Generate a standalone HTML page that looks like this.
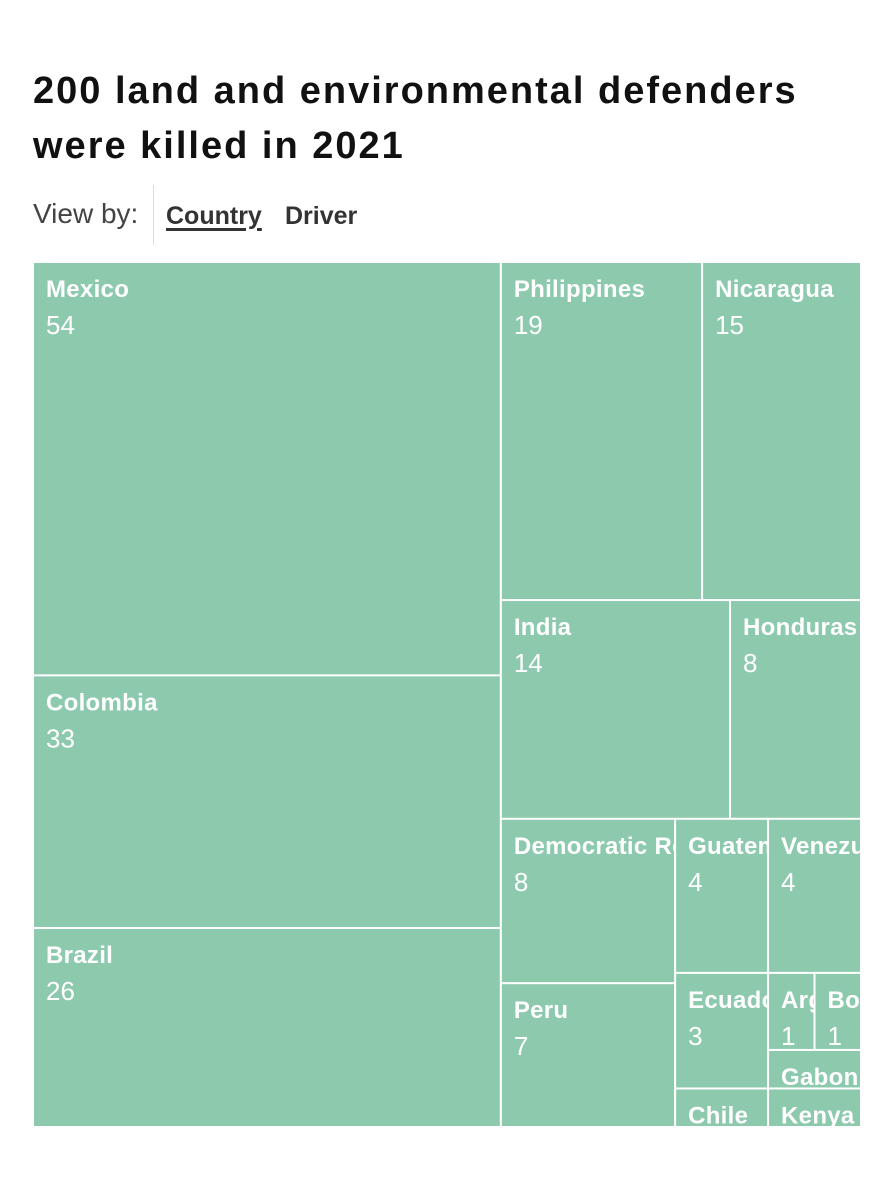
<!DOCTYPE html>
<html><head><meta charset="utf-8"><style>
body{margin:0;background:#fff;width:892px;height:1200px;overflow:hidden;font-family:"Liberation Sans",sans-serif;}
h1{position:absolute;left:33px;top:64px;margin:0;font-size:38px;line-height:55px;font-weight:bold;color:#111;letter-spacing:2px}
.vb{position:absolute;left:33px;top:198px;font-size:28px;color:#444}
.sep{position:absolute;left:153px;top:185px;width:1px;height:60px;background:#ddd}
.tab{position:absolute;top:202px;font-size:25px;font-weight:bold;color:#333}
svg{position:absolute;left:0;top:0}
</style></head><body>
<h1>200 land and environmental defenders<br>were killed in 2021</h1>
<div class="vb">View by:</div>
<div class="sep"></div>
<div class="tab" style="left:166px;text-decoration:underline;text-decoration-thickness:3px;text-underline-offset:4px">Country</div>
<div class="tab" style="left:285px">Driver</div>
<svg id="tm" width="892" height="1200"></svg>
<script>
const countries=["Mexico","Colombia","Brazil","Philippines","Nicaragua","India","Honduras","Democratic Republic of Congo","Peru","Guatemala","Venezuela","Ecuador","Chile","Argentina","Bolivia","Gabon","Kenya"];
const counts=[54,33,26,19,15,14,8,8,7,4,4,3,1,1,1,1,1];
// layout hierarchy: h = side by side, v = stacked; leaves are country indices
const tree={d:"h",c:[{d:"v",c:[0,1,2]},{d:"v",c:[{d:"h",c:[3,4]},{d:"h",c:[5,6]},{d:"h",c:[{d:"v",c:[7,8]},{d:"v",c:[{d:"h",c:[9,10]},{d:"h",c:[{d:"v",c:[11,12]},{d:"v",c:[{d:"h",c:[13,14]},15,16]}]}]}]}]}]};
const X0=33,Y0=262,W=828,H=865;
const svg=document.getElementById('tm');const NS="http://www.w3.org/2000/svg";
function sum(n){return typeof n==="number"?counts[n]:n.c.reduce((a,b)=>a+sum(b),0);}
function lay(n,x,y,w,h){
 if(typeof n==="number"){draw(n,x,y,w,h);return;}
 const t=sum(n);let o=0;
 n.c.forEach(ch=>{const f=sum(ch)/t;
  if(n.d==="h"){lay(ch,x+o,y,w*f,h);o+=w*f;}else{lay(ch,x,y+o,w,h*f);o+=h*f;}});
}
let k=0;
function draw(i,x,y,w,h){
 const g=document.createElementNS(NS,'g');
 
 
 const cp=document.createElementNS(NS,'clipPath');cp.id='c'+k;
 const cr=document.createElementNS(NS,'rect');
 cr.setAttribute('x',x+1);cr.setAttribute('y',y+1);cr.setAttribute('width',Math.max(0,w-2));cr.setAttribute('height',Math.max(0,h-2));
 cp.appendChild(cr);g.appendChild(cp);
 const r=document.createElementNS(NS,'rect');
 r.setAttribute('x',x+1);r.setAttribute('y',y+1);r.setAttribute('width',Math.max(0,w-2));r.setAttribute('height',Math.max(0,h-2));
 r.setAttribute('fill','#8dcaad');
 g.appendChild(r);
 const t1=document.createElementNS(NS,'text');
 t1.setAttribute('x',x+13);t1.setAttribute('y',y+35);t1.setAttribute('fill','#fff');
 t1.setAttribute('font-size','24');t1.setAttribute('font-weight','bold');t1.setAttribute('letter-spacing','0.3');t1.setAttribute('clip-path','url(#c'+k+')');
 t1.textContent=countries[i];g.appendChild(t1);
 const t2=document.createElementNS(NS,'text');
 t2.setAttribute('x',x+13);t2.setAttribute('y',y+72);t2.setAttribute('fill','#fff');
 t2.setAttribute('font-size','26');t2.setAttribute('clip-path','url(#c'+k+')');
 t2.textContent=counts[i];g.appendChild(t2);
 svg.appendChild(g);k++;
}
lay(tree,X0,Y0,W,H);
</script>
</body></html>
